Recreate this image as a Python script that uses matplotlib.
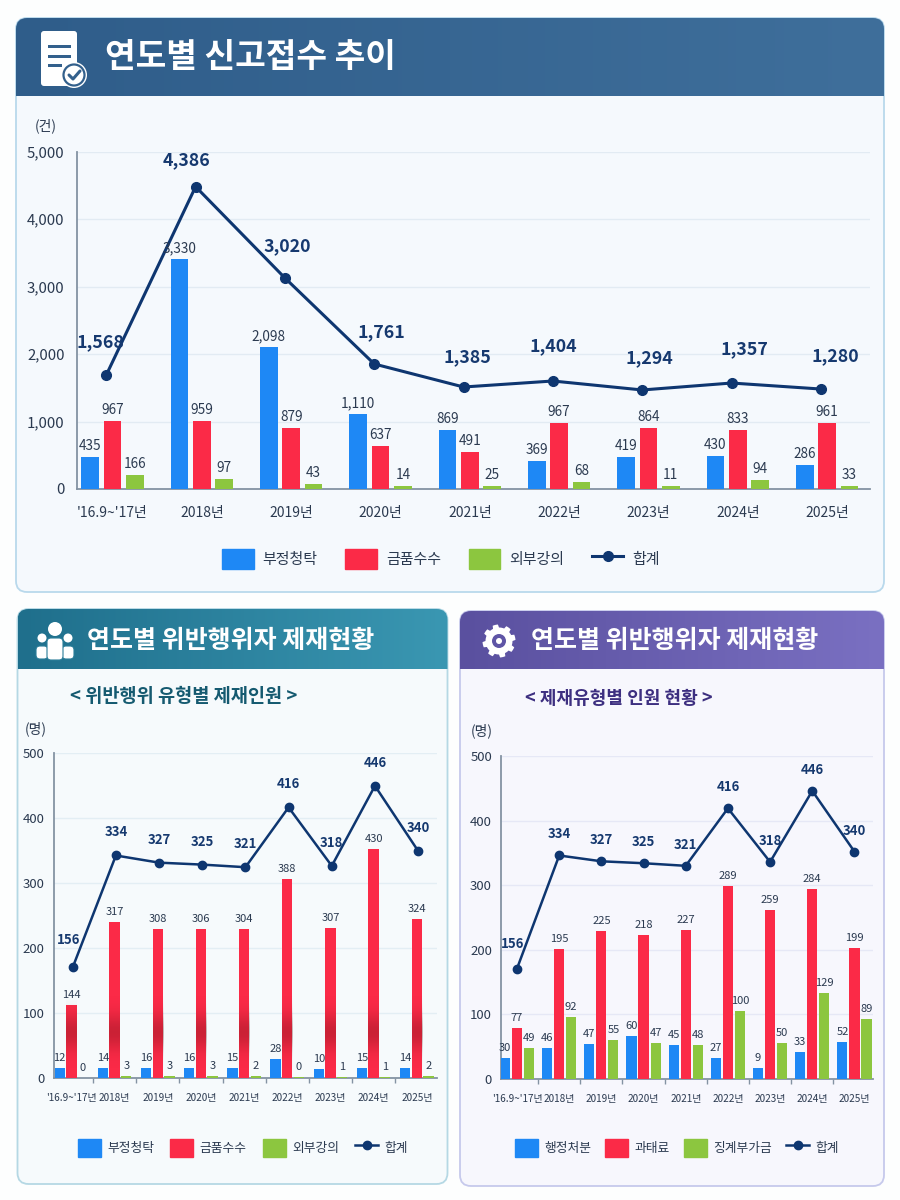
import numpy as np
import matplotlib
matplotlib.use("Agg")
import matplotlib.pyplot as plt
from matplotlib.colors import LinearSegmentedColormap
from matplotlib.lines import Line2D
from matplotlib.patches import Circle, FancyBboxPatch, Patch, Polygon, Rectangle

plt.rcParams['font.family'] = ['Noto Sans CJK KR', 'DejaVu Sans']

W, H = 900, 1200

BLUE = "#1e88f5"
RED = "#fb2a47"
GREEN = "#8cc63f"
NAVY = "#0e3670"
TXT = "#2b3a50"

# top chart, printed values
years = ["'16.9~'17년", "2018년", "2019년", "2020년", "2021년", "2022년", "2023년", "2024년", "2025년"]
report_a = [435, 3330, 2098, 1110, 869, 369, 419, 430, 286]
report_b = [967, 959, 879, 637, 491, 967, 864, 833, 961]
report_c = [166, 97, 43, 14, 25, 68, 11, 94, 33]
report_sum = [1568, 4386, 3020, 1761, 1385, 1404, 1294, 1357, 1280]
# the drawn heights in the picture do not agree with the printed numbers
report_a_h = [474, 3407, 2104, 1111, 874, 415, 474, 489, 355]
report_b_h = [1007, 1007, 904, 637, 548, 978, 904, 874, 978]
report_c_h = [207, 148, 74, 44, 44, 104, 44, 133, 44]
report_sum_h = [1689, 4479, 3126, 1852, 1511, 1600, 1467, 1570, 1481]

# lower left chart
kind_a = [12, 14, 16, 16, 15, 28, 10, 15, 14]
kind_b = [144, 317, 308, 306, 304, 388, 307, 430, 324]
kind_c = [0, 3, 3, 3, 2, 0, 1, 1, 2]
kind_sum = [156, 334, 327, 325, 321, 416, 318, 446, 340]
kind_a_h = [16, 16, 16, 16, 16, 29, 14, 15, 15]
kind_b_h = [112, 240, 229, 229, 229, 306, 231, 352, 244]
kind_c_h = [0.5, 3.5, 3.5, 3.5, 2.5, 1.5, 2, 2, 2.5]
kind_sum_h = [170, 342, 331, 328, 324, 416, 326, 449, 349]

# lower right chart
type_a = [30, 46, 47, 60, 45, 27, 9, 33, 52]
type_b = [77, 195, 225, 218, 227, 289, 259, 284, 199]
type_c = [49, 92, 55, 47, 48, 100, 50, 129, 89]
type_sum = [156, 334, 327, 325, 321, 416, 318, 446, 340]
type_a_h = [32, 48, 54, 67, 53, 33, 17, 42, 58]
type_b_h = [79, 201, 229, 223, 230, 298, 262, 294, 203]
type_c_h = [48, 96, 60, 55, 52, 105, 55, 133, 93]
type_sum_h = [171, 346, 337, 334, 330, 419, 336, 446, 352]

names_kind = ["부정청탁", "금품수수", "외부강의", "합계"]
names_type = ["행정처분", "과태료", "징계부가금", "합계"]


def ax_px(x0, x1, ytop, ybot):
    a = fig.add_axes([x0 / W, 1 - ybot / H, (x1 - x0) / W, (ybot - ytop) / H])
    a.patch.set_alpha(0)
    return a


def panel(x0, x1, y0, y1, yh, bg, edge, c1, c2):
    box = FancyBboxPatch((x0, y0), x1 - x0, y1 - y0, boxstyle="round,pad=0,rounding_size=11",
                         fc=bg, ec=edge, lw=1.3, zorder=1)
    back.add_patch(box)
    cmap = LinearSegmentedColormap.from_list("h", [c1, c2])
    im = back.imshow(np.linspace(0, 1, 200)[None, :], cmap=cmap, extent=[x0, x1, yh, y0],
                     aspect="auto", zorder=2)
    im.set_clip_path(box)


def chart(box, ymax, step, a, b, c, tot, a_h, b_h, c_h, tot_h, xr, names, opt):
    ax = ax_px(*box)
    x = np.arange(len(years))
    off = opt["off"]
    w = opt["w"]
    ax.bar(x - off, a_h, w, color=BLUE, zorder=3)
    ax.bar(x, b_h, w, color=RED, zorder=3)
    ax.bar(x + off, c_h, w, color=GREEN, zorder=3)

    if opt.get("dark"):
        # darker band in the lower half of the red bars
        vals = np.exp(-((np.linspace(0, 1, 120) - 0.5) / 0.25) ** 2)
        rgba = np.zeros((120, 1, 4))
        rgba[:, 0, 0] = 0.35
        rgba[:, 0, 1] = 0.05
        rgba[:, 0, 2] = 0.05
        rgba[:, 0, 3] = vals * 0.3
        for i in x:
            ax.imshow(rgba, extent=[i - w / 2, i + w / 2, 15, 125], aspect="auto", zorder=3.5)

    lx = x + opt["line_off"]
    ax.plot(lx, tot_h, color=NAVY, lw=opt["lw"], marker="o", ms=opt["ms"], zorder=5)

    for vals, hs, px in ((a, a_h, x - off), (b, b_h, x), (c, c_h, x + off)):
        for v, h, p in zip(vals, hs, px):
            ax.annotate(f"{v:,}", (p, h), xytext=(0, opt["lab_gap"]), textcoords="offset pixels",
                        ha="center", va="center", fontsize=opt["lab_fs"], color=TXT, zorder=6)
    gaps = opt["tot_gap"]
    for v, h, p, g in zip(tot, tot_h, lx, gaps):
        ax.annotate(f"{v:,}", (p, h), xytext=g, textcoords="offset pixels",
                    ha="center", va="center", fontsize=opt["tot_fs"], fontweight="bold",
                    color="#16396f", zorder=6)

    ax.set_xlim(*xr)
    ax.set_ylim(0, ymax)
    ax.set_yticks(np.arange(0, ymax + 1, step))
    ax.yaxis.set_major_formatter(lambda v, _: f"{int(v):,}")
    ax.set_xticks(x, years)
    ax.grid(axis="y", color=opt["grid"], lw=1, zorder=0)
    ax.set_axisbelow(True)
    ax.tick_params(axis="y", length=0, pad=opt["ypad"], labelsize=opt["y_fs"], labelcolor=TXT)
    ax.tick_params(axis="x", length=0, pad=opt["xpad"], labelsize=opt["x_fs"], labelcolor=TXT)
    if opt.get("minor"):
        ax.set_xticks(x[:-1] + 0.5, minor=True)
        ax.tick_params(axis="x", which="minor", length=3.5, width=1, color="#8493a3")
    for s in ("top", "right"):
        ax.spines[s].set_visible(False)
    for s in ("left", "bottom"):
        ax.spines[s].set_color("#8493a3")
        ax.spines[s].set_linewidth(1.3)

    handles = [Patch(color=BLUE, label=names[0]), Patch(color=RED, label=names[1]),
               Patch(color=GREEN, label=names[2]),
               Line2D([], [], color=NAVY, lw=opt["lw"], marker="o", ms=opt["ms"], label=names[3])]
    lx0, ly0 = opt["leg"]
    ax.legend(handles=handles, ncols=4, loc="center", frameon=False,
              bbox_to_anchor=(lx0 / W, 1 - ly0 / H), bbox_transform=fig.transFigure,
              fontsize=opt["leg_fs"], handlelength=opt["hl"], handleheight=opt["hh"],
              handletextpad=opt["htp"], columnspacing=opt["cs"], labelcolor=TXT)
    return ax


fig = plt.figure(figsize=(W / 100, H / 100), dpi=100, facecolor="#fdfefe")
back = fig.add_axes([0, 0, 1, 1])
back.set_axis_off()

panel(16, 884, 18, 592, 96, "#f5f9fd", "#b9d9ec", "#2f5d8a", "#3f6f9b")
panel(17.5, 447.5, 609, 1184, 669, "#f6fafc", "#b5d8e4", "#1f6f8c", "#3a97b2")
panel(460, 884, 611, 1186, 669, "#f7f7fd", "#c6c9ec", "#5a509f", "#7a70c2")
back.set_xlim(0, W)
back.set_ylim(H, 0)

# headings
back.text(105, 57, "연도별 신고접수 추이", color="white", fontsize=24, fontweight="bold", va="center", zorder=4)
back.text(87, 641, "연도별 위반행위자 제재현황", color="white", fontsize=18, fontweight="bold", va="center", zorder=4)
back.text(531, 641, "연도별 위반행위자 제재현황", color="white", fontsize=18, fontweight="bold", va="center", zorder=4)
back.text(183.5, 697, "< 위반행위 유형별 제재인원 >", color="#155a70", fontsize=13.4, fontweight="bold",
          ha="center", va="center", zorder=4)
back.text(618.5, 699, "< 제재유형별 인원 현황 >", color="#3d2f80", fontsize=13, fontweight="bold",
          ha="center", va="center", zorder=4)
back.text(46, 126, "(건)", color=TXT, fontsize=10, ha="center", va="center", zorder=4)
back.text(36, 729, "(명)", color=TXT, fontsize=10, ha="center", va="center", zorder=4)
back.text(482, 731, "(명)", color=TXT, fontsize=10, ha="center", va="center", zorder=4)

# document icon
back.add_patch(FancyBboxPatch((41, 31), 36, 55, boxstyle="round,pad=0,rounding_size=3", fc="white", ec="none", zorder=4))
for yy, x1 in ((46, 71), (56, 71), (65, 62)):
    back.add_patch(Rectangle((48, yy - 1.5), x1 - 48, 3, fc="#33608c", zorder=5))
back.add_patch(Circle((74, 75), 13, fc="white", ec="none", zorder=5))
back.add_patch(Circle((74, 75), 10.5, fc="white", ec="#33608c", lw=1.6, zorder=6))
back.plot([69, 73, 80], [75, 79, 71], color="#33608c", lw=2.2, zorder=7, solid_capstyle="round")

# people icon
for cx, cy, r, bw, by, bh in ((42, 638, 4.5, 12, 646, 13), (68, 638, 4.5, 12, 646, 13), (55, 629, 7, 16, 638, 22)):
    back.add_patch(Circle((cx, cy), r, fc="white", ec="none", zorder=5))
    back.add_patch(FancyBboxPatch((cx - bw / 2, by), bw, bh, boxstyle="round,pad=0,rounding_size=4",
                                  fc="white", ec="#2a7d99", lw=0.8, zorder=5))

# gear icon
ang = np.linspace(0, 2 * np.pi, 96, endpoint=False)
rad = np.where(((ang + np.pi / 8) % (np.pi / 4)) < np.pi / 8, 16.5, 13.5)
back.add_patch(Polygon(np.c_[499 + rad * np.cos(ang), 641 + rad * np.sin(ang)], fc="white", ec="none", zorder=5))
back.add_patch(Circle((499, 641), 7, fc="#5f55a6", ec="none", zorder=6))
back.add_patch(Circle((499, 641), 3, fc="white", ec="none", zorder=7))
back.set_xlim(0, W)
back.set_ylim(H, 0)

chart((77, 870, 151.5, 489), 5000, 1000, report_a, report_b, report_c, report_sum,
      report_a_h, report_b_h, report_c_h, report_sum_h, (-0.398, 8.48), names_kind,
      dict(off=0.25, w=0.2, line_off=-0.07, lw=2.2, ms=7, lab_gap=11, lab_fs=9.8,
           tot_gap=[(-6, 33), (-9, 26), (2, 32), (7, 32), (4, 30), (0, 35), (7, 32), (13, 34), (14, 33)],
           tot_fs=12.8, grid="#e2ebf3", ypad=9, y_fs=10.8, xpad=12, x_fs=10, leg=(441, 559), leg_fs=10.8,
           hl=2.1, hh=1.75, htp=0.6, cs=1.85))

chart((53.7, 436.7, 752.7, 1078), 500, 100, kind_a, kind_b, kind_c, kind_sum,
      kind_a_h, kind_b_h, kind_c_h, kind_sum_h, (-0.41, 8.46), names_kind,
      dict(off=0.27, w=0.24, line_off=0.03, lw=1.8, ms=6, lab_gap=10, lab_fs=8, tot_gap=[(-4, 27)] + [(0, 23)] * 8,
           tot_fs=9.5, grid="#e3eef4", ypad=6.5, y_fs=9.5, xpad=10.5, x_fs=7.2, minor=True, dark=True,
           leg=(243, 1148), leg_fs=9.2, hl=1.8, hh=1.85, htp=0.5, cs=1.25))

chart((501, 873, 756, 1079), 500, 100, type_a, type_b, type_c, type_sum,
      type_a_h, type_b_h, type_c_h, type_sum_h, (-0.38, 8.44), names_type,
      dict(off=0.285, w=0.24, line_off=0.0, lw=1.8, ms=6, lab_gap=10, lab_fs=8, tot_gap=[(-4, 25)] + [(0, 21)] * 8,
           tot_fs=9.5, grid="#e6e8f6", ypad=6.5, y_fs=9.5, xpad=10.5, x_fs=7.2, minor=True,
           leg=(677, 1148), leg_fs=9.2, hl=1.8, hh=1.85, htp=0.5, cs=1.1))

fig.savefig("out.png", dpi=100, facecolor=fig.get_facecolor())
